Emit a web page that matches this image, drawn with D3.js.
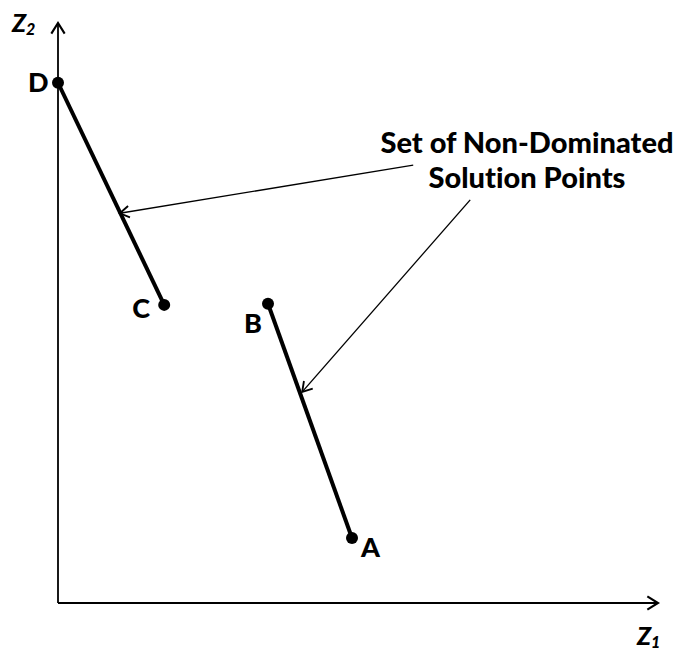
<!DOCTYPE html>
<html>
<head>
<meta charset="utf-8">
<script src="https://cdn.jsdelivr.net/npm/d3@7"></script>
<style>
  body { margin: 0; background: #fff; }
  text { font-family: Lato, "Open Sans", sans-serif; font-weight: bold; fill: #000; font-variant-ligatures: none; }
</style>
</head>
<body>
<div id="chart"></div>
<script>
// points in objective space (z1, z2)
const pointNames = ["D", "C", "B", "A"];
const z1Values = [0, 17.7, 35, 49];
const z2Values = [89.7, 51.4, 51.6, 11.2];
// non-dominated segments, as pairs of point names
const segments = [["D", "C"], ["B", "A"]];
// annotation arrows: [fromZ1, fromZ2] -> [toZ1, toZ2]
const arrowFrom = [[59.2, 75.5], [68.7, 69.5]];
const arrowTo = [[10.3, 67.2], [40.7, 36.4]];
const noteLines = ["Set of Non-Dominated", "Solution Points"];

const width = 678, height = 651;

const x = d3.scaleLinear().domain([0, 100]).range([58, 658]);
const y = d3.scaleLinear().domain([0, 100]).range([603, 23]);

const svg = d3.select("#chart").append("svg")
    .attr("width", width)
    .attr("height", height);

const defs = svg.append("defs");
function marker(id, size) {
    defs.append("marker")
        .attr("id", id)
        .attr("viewBox", "-10 -6 12 12")
        .attr("refX", 0).attr("refY", 0)
        .attr("markerUnits", "userSpaceOnUse")
        .attr("markerWidth", size).attr("markerHeight", size)
        .attr("orient", "auto")
        .append("path")
        .attr("d", "M-8,-5 L0,0 L-8,5")
        .attr("fill", "none")
        .attr("stroke", "#000")
        .attr("stroke-width", 1.6);
}
marker("axisHead", 16);
marker("noteHead", 14);

// axes
svg.append("line")
    .attr("x1", x(0)).attr("y1", y(0))
    .attr("x2", x(0)).attr("y2", y(100))
    .attr("stroke", "#000").attr("stroke-width", 1.8)
    .attr("marker-end", "url(#axisHead)");
svg.append("line")
    .attr("x1", x(0)).attr("y1", y(0))
    .attr("x2", x(100)).attr("y2", y(0))
    .attr("stroke", "#000").attr("stroke-width", 1.8)
    .attr("marker-end", "url(#axisHead)");

// axis labels
const zl2 = svg.append("text").attr("x", 12).attr("y", 32)
    .style("font-size", "25px").style("font-style", "italic").style("font-weight", 900);
zl2.append("tspan").text("Z");
zl2.append("tspan").attr("dy", 3).style("font-size", "16px").text("2");

const zl1 = svg.append("text").attr("x", 637).attr("y", 645)
    .style("font-size", "25px").style("font-style", "italic").style("font-weight", 900);
zl1.append("tspan").text("Z");
zl1.append("tspan").attr("dy", 3).style("font-size", "16px").text("1");

const pts = pointNames.map((n, i) => ({ name: n, z1: z1Values[i], z2: z2Values[i] }));
const byName = Object.fromEntries(pts.map(p => [p.name, p]));

// segments
svg.selectAll(".seg")
    .data(segments)
    .enter().append("line")
    .attr("class", "seg")
    .attr("x1", d => x(byName[d[0]].z1))
    .attr("y1", d => y(byName[d[0]].z2))
    .attr("x2", d => x(byName[d[1]].z1))
    .attr("y2", d => y(byName[d[1]].z2))
    .attr("stroke", "#000")
    .attr("stroke-width", 4);

svg.selectAll(".dot")
    .data(pts)
    .enter().append("circle")
    .attr("class", "dot")
    .attr("cx", d => x(d.z1))
    .attr("cy", d => y(d.z2))
    .attr("r", 6)
    .attr("fill", "#000");

// point labels
const labelOffset = { D: [-30, 9], C: [-32, 13], B: [-24, 29], A: [9, 19] };
svg.selectAll(".plabel")
    .data(pts)
    .enter().append("text")
    .attr("class", "plabel")
    .attr("x", d => x(d.z1) + labelOffset[d.name][0])
    .attr("y", d => y(d.z2) + labelOffset[d.name][1])
    .style("font-size", "27px")
    .style("font-weight", 900)
    .text(d => d.name);

// annotation arrows
svg.selectAll(".note")
    .data(arrowFrom)
    .enter().append("line")
    .attr("class", "note")
    .attr("x1", d => x(d[0]))
    .attr("y1", d => y(d[1]))
    .attr("x2", (d, i) => x(arrowTo[i][0]))
    .attr("y2", (d, i) => y(arrowTo[i][1]))
    .attr("stroke", "#000")
    .attr("stroke-width", 1.3)
    .attr("marker-end", "url(#noteHead)");

svg.selectAll(".notetext")
    .data(noteLines)
    .enter().append("text")
    .attr("class", "notetext")
    .attr("x", 527)
    .attr("y", (d, i) => 153 + i * 35)
    .attr("text-anchor", "middle")
    .style("font-size", "29px")
    .style("font-weight", 900)
    .text(d => d);
</script>
</body>
</html>
